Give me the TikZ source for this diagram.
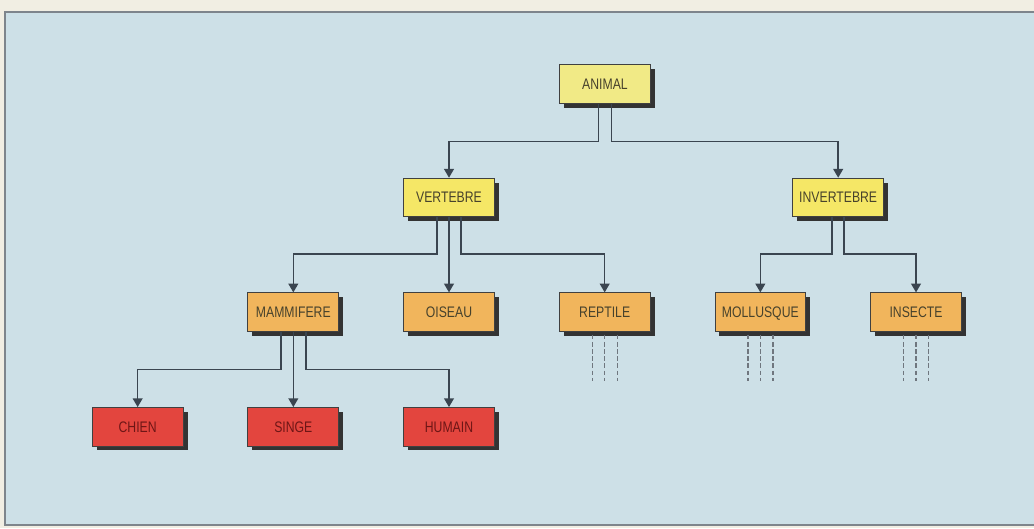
\documentclass[tikz,border=0pt]{standalone}
\usepackage{fontspec}
\usepackage{xcolor}
\usepackage{tikz}
\usetikzlibrary{arrows.meta, positioning, shadows, calc}
\newfontfamily\boxfont[FakeStretch=0.8]{Liberation Sans}
\definecolor{page_cream}{HTML}{F1EEE3}
\definecolor{panel_blue}{HTML}{CDE0E7}
\definecolor{panel_edge}{HTML}{7E858C}
\definecolor{box_pale}{HTML}{F1EA86}
\definecolor{box_yellow}{HTML}{F5E766}
\definecolor{box_orange}{HTML}{F1B55C}
\definecolor{box_red}{HTML}{E3453E}
\definecolor{ink_dark}{HTML}{47422C}
\definecolor{ink_red}{HTML}{6E1616}
\definecolor{wire}{HTML}{3A4550}
\definecolor{wire_dash}{HTML}{6F767E}

\begin{document}
\begin{tikzpicture}[
        x=0.02cm, y=-0.02cm,
        node distance=1.51cm and 1.28cm,
        box/.style={rectangle, draw=black!75, line width=0.4pt, minimum width=1.82cm, minimum height=0.77cm, inner sep=0pt,
            font=\boxfont\fontsize{8.7}{10}\selectfont, text=ink_dark, text height=6.2pt, text depth=0pt,
            drop shadow={shadow xshift=0.09cm, shadow yshift=-0.09cm, fill=black!80, opacity=1}},
        root/.style={box, fill=box_pale},
        group/.style={box, fill=box_yellow},
        class/.style={box, fill=box_orange},
        kind/.style={box, fill=box_red, text=ink_red},
        link/.style={draw=wire, line width=0.8pt, -{Triangle[width=5.6pt, length=5pt]}},
        more/.style={draw=wire_dash, line width=0.75pt, dash pattern=on 2.7pt off 1.4pt},
    ]
        % Background and panel
        \fill[page_cream] (0,0) rectangle (1034,528);
        \useasboundingbox (0,0) rectangle (1034,528);
        \fill[panel_blue] (5,12) rectangle (1040,525);
        \draw[panel_edge, line width=0.8pt] (1040,12) -- (5,12) -- (5,525) -- (1040,525);

        % Classes
        \node[class] (oiseau) at (449,312) {OISEAU};
        \node[class, left=of oiseau] (mammifere) {MAMMIFERE};
        \node[class, right=of oiseau] (reptile) {REPTILE};
        \node[class, right=of reptile] (mollusque) {MOLLUSQUE};
        \node[class, right=of mollusque] (insecte) {INSECTE};

        % Groups
        \node[group, above=of oiseau] (vertebre) {VERTEBRE};
        \coordinate (fork) at ($(mollusque)!0.5!(insecte)$);
        \node[group] (invertebre) at (fork |- vertebre) {INVERTEBRE};

        % Root
        \node[root] (animal) at (605,84) {ANIMAL};

        % Mammals
        \node[kind, below=of mammifere] (singe) {SINGE};
        \node[kind, left=of singe] (chien) {CHIEN};
        \node[kind, right=of singe] (humain) {HUMAIN};

        % Connections
        \draw[link] ([xshift=-0.13cm]animal.south) -- ++(0,38) -| (vertebre);
        \draw[link] ([xshift=0.13cm]animal.south) -- ++(0,38) -| (invertebre);

        \draw[link] ([xshift=-0.24cm]vertebre.south) -- ++(0,37) -| (mammifere);
        \draw[link] (vertebre) -- (oiseau);
        \draw[link] ([xshift=0.24cm]vertebre.south) -- ++(0,37) -| (reptile);

        \draw[link] ([xshift=-0.12cm]invertebre.south) -- ++(0,37) -| (mollusque);
        \draw[link] ([xshift=0.12cm]invertebre.south) -- ++(0,37) -| (insecte);

        \draw[link] ([xshift=-0.25cm]mammifere.south) -- ++(0,38) -| (chien);
        \draw[link] (mammifere) -- (singe);
        \draw[link] ([xshift=0.25cm]mammifere.south) -- ++(0,38) -| (humain);

        % Open branches
        \foreach \n in {reptile, mollusque, insecte}
            \foreach \dx in {-0.25, 0, 0.25}
                \draw[more] ([xshift=\dx cm, yshift=-0.06cm]\n.south) -- ++(0,46);
    \end{tikzpicture}
\end{document}
